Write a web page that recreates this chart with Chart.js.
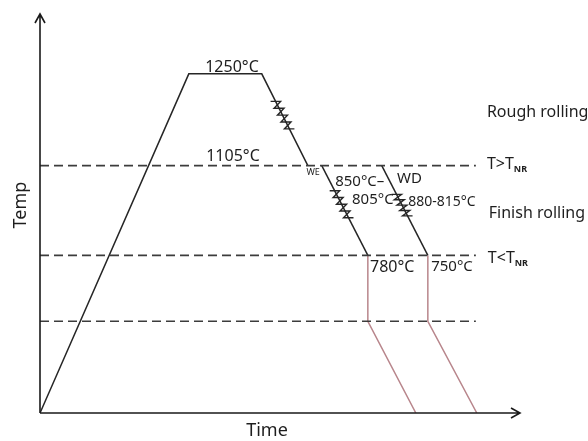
<!DOCTYPE html>
<html>
<head>
<meta charset="utf-8">
<script src="https://cdn.jsdelivr.net/npm/chart.js@4.4.1/dist/chart.umd.min.js"></script>
<style>
  html, body { margin: 0; padding: 0; background: #fff; }
  #wrap { width: 588px; height: 441px; }
</style>
</head>
<body>
<div id="wrap"><canvas id="chart"></canvas></div>
<script>
// schematic levels (arbitrary temperature units, 0 = time axis)
const levelSoak = 85;     // 1250 C
const levelTnrHigh = 62;  // 1105 C
const levelTnrLow = 39.5; // 780 / 750 C
const levelQuench = 23;
const dashEnd = 90.8;

// main heating / soak / rough rolling path
const mainTime = [0, 31, 46.2, 55.8];
const mainTemp = [0, levelSoak, levelSoak, levelTnrHigh];
// finish rolling paths
const weTime = [58.7, 68.3];
const weTemp = [levelTnrHigh, levelTnrLow];
const wdTime = [71.2, 80.8];
const wdTemp = [levelTnrHigh, levelTnrLow];
// cooling after rolling
const weCoolTime = [68.3, 68.3, 78.3];
const weCoolTemp = [levelTnrLow, levelQuench, 0];
const wdCoolTime = [80.8, 80.8, 91];
const wdCoolTemp = [levelTnrLow, levelQuench, 0];

// rolling passes drawn as zigzags: [segment, from fraction, to fraction]
const passes = [
  ['main', 0.30, 0.60],
  ['we', 0.28, 0.58],
  ['wd', 0.32, 0.56]
];

// text labels in data units
const labels = [
  { text: '1250°C', x: 40, y: 86.7, align: 'center', size: 16 },
  { text: '1105°C', x: 40.2, y: 64.2, align: 'center', size: 16 },
  { text: 'WE', x: 56.9, y: 60.2, align: 'center', size: 9 },
  { text: '850°C–', x: 61.5, y: 57.9, align: 'left', size: 15 },
  { text: '805°C', x: 65, y: 53.4, align: 'left', size: 15 },
  { text: 'WD', x: 74.4, y: 58.6, align: 'left', size: 15 },
  { text: '880-815°C', x: 76.7, y: 52.9, align: 'left', size: 14 },
  { text: '780°C', x: 68.75, y: 36.6, align: 'left', size: 16 },
  { text: '750°C', x: 81.5, y: 36.6, align: 'left', size: 15 },
  { text: 'Rough rolling', x: 93.1, y: 75.4, align: 'left', size: 16 },
  { text: 'Finish rolling', x: 93.5, y: 50.1, align: 'left', size: 16 }
];
const nrLabels = [
  { text: 'T>T', x: 93.1, y: 62.2 },
  { text: 'T<T', x: 93.3, y: 38.8 }
];

function pts(xs, ys) {
  return xs.map((x, i) => ({ x: x, y: ys[i] }));
}

const inkColor = '#262626';
const coolColor = '#b8868c';
const font = '"Noto Sans", "Liberation Sans", sans-serif';

function lineSet(data, color, dash) {
  return {
    data: data,
    borderColor: color,
    borderWidth: dash ? 1.7 : 1.5,
    borderDash: dash || [],
    pointRadius: 0,
    showLine: true,
    fill: false,
    tension: 0
  };
}

const datasets = [
  lineSet(pts([0, dashEnd], [levelTnrHigh, levelTnrHigh]), '#3c3c3c', [9, 5]),
  lineSet(pts([0, dashEnd], [levelTnrLow, levelTnrLow]), '#3c3c3c', [9, 5]),
  lineSet(pts([0, dashEnd], [levelQuench, levelQuench]), '#3c3c3c', [9, 5]),
  lineSet(pts(mainTime, mainTemp), inkColor),
  lineSet(pts(weTime, weTemp), inkColor),
  lineSet(pts(wdTime, wdTemp), inkColor),
  lineSet(pts(weCoolTime, weCoolTemp), coolColor),
  lineSet(pts(wdCoolTime, wdCoolTemp), coolColor)
];

const segments = {
  main: [[mainTime[2], mainTemp[2]], [mainTime[3], mainTemp[3]]],
  we: [[weTime[0], weTemp[0]], [weTime[1], weTemp[1]]],
  wd: [[wdTime[0], wdTemp[0]], [wdTime[1], wdTemp[1]]]
};

const decorPlugin = {
  id: 'decor',
  afterDraw(chart) {
    const ctx = chart.ctx;
    const xs = chart.scales.x, ys = chart.scales.y;
    const x0 = xs.getPixelForValue(0), y0 = ys.getPixelForValue(0);
    const top = chart.chartArea.top, right = chart.chartArea.right;
    ctx.save();
    ctx.strokeStyle = '#1a1a1a';
    ctx.lineWidth = 1.6;
    // axes with open arrowheads
    ctx.beginPath();
    ctx.moveTo(x0, y0); ctx.lineTo(x0, top);
    ctx.moveTo(x0 - 5, top + 9); ctx.lineTo(x0, top); ctx.lineTo(x0 + 5, top + 9);
    ctx.moveTo(x0, y0); ctx.lineTo(right, y0);
    ctx.moveTo(right - 9, y0 - 5); ctx.lineTo(right, y0); ctx.lineTo(right - 9, y0 + 5);
    ctx.stroke();

    // rolling pass zigzags
    ctx.strokeStyle = inkColor;
    ctx.lineWidth = 1.4;
    passes.forEach(p => {
      const s = segments[p[0]];
      const ax = xs.getPixelForValue(s[0][0]), ay = ys.getPixelForValue(s[0][1]);
      const bx = xs.getPixelForValue(s[1][0]), by = ys.getPixelForValue(s[1][1]);
      const n = 5;
      ctx.beginPath();
      for (let k = 0; k < n; k++) {
        const f = p[1] + (p[2] - p[1]) * k / (n - 1);
        const px = ax + (bx - ax) * f, py = ay + (by - ay) * f;
        if (k === 0) ctx.moveTo(px - 5, py); else ctx.lineTo(px - 5, py);
        ctx.lineTo(px + 5, py);
      }
      ctx.stroke();
    });

    // labels
    ctx.fillStyle = '#1e1e1e';
    ctx.textBaseline = 'middle';
    labels.forEach(l => {
      ctx.font = l.size + 'px ' + font;
      ctx.textAlign = l.align;
      ctx.fillText(l.text, xs.getPixelForValue(l.x), ys.getPixelForValue(l.y));
    });
    nrLabels.forEach(l => {
      const px = xs.getPixelForValue(l.x), py = ys.getPixelForValue(l.y);
      ctx.textAlign = 'left';
      ctx.font = '16px ' + font;
      ctx.fillText(l.text, px, py);
      const w = ctx.measureText(l.text).width;
      ctx.font = 'bold 9px ' + font;
      ctx.fillText('NR', px + w, py + 5);
    });

    // axis titles
    ctx.font = '18px ' + font;
    ctx.textAlign = 'center';
    ctx.fillText('Time', 267, 431);
    ctx.translate(21, 205);
    ctx.rotate(-Math.PI / 2);
    ctx.fillText('Temp', 0, 0);
    ctx.restore();
  }
};

new Chart(document.getElementById('chart'), {
  type: 'scatter',
  data: { datasets: datasets },
  options: {
    responsive: true,
    maintainAspectRatio: false,
    animation: false,
    layout: { padding: { left: 40, top: 14, right: 68, bottom: 28 } },
    scales: {
      x: { type: 'linear', min: 0, max: 100, display: false },
      y: { type: 'linear', min: 0, max: 100, display: false }
    },
    plugins: {
      legend: { display: false },
      tooltip: { enabled: false }
    }
  },
  plugins: [decorPlugin]
});
</script>
</body>
</html>
